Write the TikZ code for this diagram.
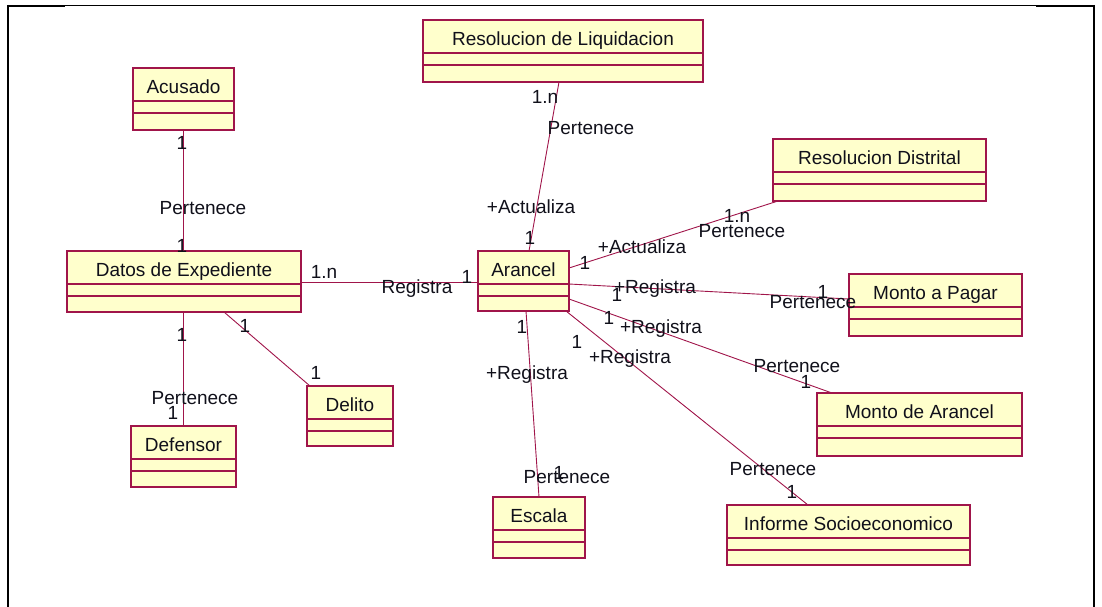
\documentclass[tikz,border=0pt]{standalone}
\usepackage{fontspec}
\setmainfont{Liberation Sans}
\definecolor{umlred}{HTML}{A0154A}
\definecolor{umlfill}{HTML}{FFFFCC}
\definecolor{umltext}{HTML}{10101A}
\tikzset{
  clsbox/.style={draw=umlred, fill=umlfill, line width=1.4pt, inner sep=0pt, outer sep=0pt},
  clsline/.style={draw=umlred, line width=1.4pt},
  clstext/.style={font=\fontsize{19}{22}\selectfont, text=umltext, inner sep=0pt, text height=13.5pt, text depth=0pt},
  assoc/.style={draw=umlred, line width=0.9pt},
  lbl/.style={font=\fontsize{19}{22}\selectfont, text=umltext, inner sep=0pt, text height=13.5pt, text depth=0pt},
  frameline/.style={draw=black, line width=#1},
}
\newcommand\umlclass[6]{%
  \node[clsbox, anchor=north west, minimum width={(#4-#2)*1pt}, minimum height={(#5-#3)*1pt}] (#1) at (#2,#3) {};
  \draw[clsline] (#2,#3+33) -- (#4,#3+33);
  \draw[clsline] (#2,#3+45) -- (#4,#3+45);
  \node[clstext] (#1-t) at ({(#2+#4)/2},#3+19) {#6};
}
\newcommand\lab[4]{\node[lbl] (#1) at (#2,#3) {#4};}
\begin{document}
\begin{tikzpicture}[x=1pt,y=-1pt]
\useasboundingbox (0,0) rectangle (1102,607);
% frame
\draw[frameline=1pt] (8,6) -- (1094,6);
\draw[frameline=2pt] (7,6) -- (65,6);
\draw[frameline=2pt] (1036,6) -- (1095,6);
\draw[frameline=2.2pt] (8,5) -- (8,607);
\draw[frameline=2.2pt] (1094,5) -- (1094,607);
% classes
\umlclass{acu}{133}{68}{234}{130}{Acusado}
\umlclass{dat}{67}{251}{301}{312}{Datos de Expediente}
\umlclass{liq}{423}{20}{703}{82}{Resolucion de Liquidacion}
\umlclass{dis}{773}{139}{986}{201}{Resolucion Distrital}
\umlclass{pag}{849}{274}{1022}{336}{Monto a Pagar}
\umlclass{arn}{478}{251}{569}{311}{Arancel}
\umlclass{mar}{817}{393}{1022}{456}{Monto de Arancel}
\umlclass{inf}{727}{505}{970}{565}{Informe Socioeconomico}
\umlclass{esc}{493}{497}{585}{558}{Escala}
\umlclass{del}{307}{386}{393}{446}{Delito}
\umlclass{def}{131}{426}{236}{487}{Defensor}
% associations
\draw[assoc] (acu.south) -- (acu.south |- dat.north);
\draw[assoc] ([yshift=-31pt]dat.north east) -- ([yshift=-31pt]arn.north west);
\draw[assoc] (def.north) -- (def.north |- dat.south);
\draw[assoc] ([xshift=157pt]dat.south west) -- ([xshift=3pt]del.north west);
\draw[assoc] ([xshift=51pt]arn.north west) -- ([xshift=136pt]liq.south west);
\draw[assoc] ([yshift=-17pt]arn.north east) -- ([xshift=5pt]dis.south west);
\draw[assoc] ([yshift=-33pt]arn.north east) -- ([yshift=-25pt]pag.north west);
\draw[assoc] ([yshift=-48pt]arn.north east) -- ([xshift=15pt]mar.north west);
\draw[assoc] ([xshift=-3pt]arn.south east) -- ([xshift=81pt]inf.north west);
\draw[assoc] ([xshift=48pt]arn.south west) -- ([xshift=46pt]esc.north west);
% labels
\lab{a1}{182}{143}{1}
\lab{a2}{203}{208}{Pertenece}
\lab{a3}{182}{246}{1}
\lab{b1}{324}{272}{1.n}
\lab{b2}{417}{287}{Registra}
\lab{b3}{467}{277}{1}
\lab{c1}{182}{335}{1}
\lab{c2}{195}{398}{Pertenece}
\lab{c3}{173}{413}{1}
\lab{d1}{245}{326}{1}
\lab{d2}{316}{373}{1}
\lab{e1}{545}{97}{1.n}
\lab{e2}{591}{128}{Pertenece}
\lab{e3}{531}{207}{+Actualiza}
\lab{e4}{530}{238}{1}
\lab{f1}{585}{263}{1}
\lab{f2}{642}{247}{+Actualiza}
\lab{f3}{737}{216}{1.n}
\lab{f4}{742}{231}{Pertenece}
\lab{g1}{617}{295}{1}
\lab{g2}{655}{287}{+Registra}
\lab{g3}{813}{302}{Pertenece}
\lab{g4}{823}{292}{1}
\lab{h1}{609}{318}{1}
\lab{h2}{661}{327}{+Registra}
\lab{h3}{797}{366}{Pertenece}
\lab{h4}{806}{382}{1}
\lab{i1}{577}{342}{1}
\lab{i2}{630}{357}{+Registra}
\lab{i3}{773}{469}{Pertenece}
\lab{i4}{792}{492}{1}
\lab{j1}{522}{327}{1}
\lab{j2}{527}{373}{+Registra}
\lab{j3}{567}{477}{Pertenece}
\lab{j4}{559}{473}{1}
\end{tikzpicture}
\end{document}
